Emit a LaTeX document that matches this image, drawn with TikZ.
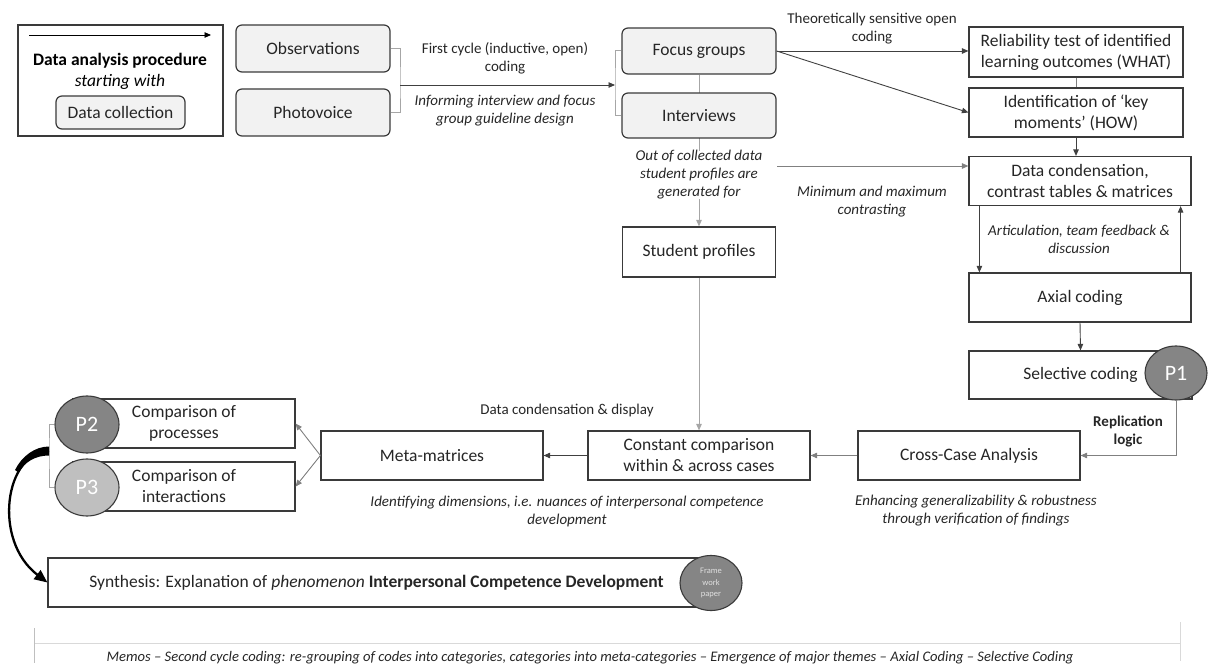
\documentclass[tikz,border=0pt]{standalone}
\usepackage{fontspec}
\setmainfont{Carlito}
\usetikzlibrary{arrows.meta,shapes.geometric,backgrounds}
\definecolor{ink}{HTML}{262626}
\definecolor{frameC}{HTML}{3A3A3A}
\definecolor{paleFill}{HTML}{F2F2F2}
\definecolor{wireDark}{HTML}{404040}
\definecolor{wireMid}{HTML}{808080}
\definecolor{wireLight}{HTML}{A6A6A6}
\definecolor{memoC}{HTML}{D9D9D9}
\definecolor{discDark}{HTML}{858585}
\definecolor{discLight}{HTML}{BFBFBF}
\newcommand{\boxfnt}{\fontsize{17.5}{21}\selectfont}
\newcommand{\lblfnt}{\fontsize{15}{18}\selectfont}
\begin{document}
\begin{tikzpicture}[x=1pt,y=-1pt,
  box/.style={draw=frameC, line width=1.2pt, fill=white, text=ink, font=\boxfnt, align=center, inner sep=0pt},
  rbox/.style={box, rounded corners=6pt, fill=paleFill},
  lbl/.style={text=ink, font=\lblfnt, align=center, inner sep=1pt},
  ilbl/.style={lbl, font=\lblfnt\itshape},
  disc/.style={ellipse, draw=frameC, line width=1.1pt, text=white, font=\fontsize{22}{24}\selectfont, inner sep=0pt},
  arrowhd/.style={-{Triangle[length=6.5pt,width=5.5pt]}},
  wdark/.style={draw=wireDark, line width=0.9pt},
  wmid/.style={draw=wireMid, line width=0.9pt},
  wlight/.style={draw=wireLight, line width=1pt},
  bracketline/.style={draw=wireLight, line width=1pt},
  memoline/.style={draw=memoC, line width=1pt},
]
\useasboundingbox (0,0) rectangle (1209,668);

% ---- legend ----
\node[box, minimum width=205pt, minimum height=111pt] (legend) at (120.5,80.5) {};
\coordinate (legA) at (29,35);
\coordinate (legB) at (211,35);
\draw[wdark, draw=black, arrowhd] (legA) -- (legB);
\node[lbl, font=\boxfnt\bfseries, text=black] (legTitle) at (120,61) {Data analysis procedure};
\node[lbl, font=\boxfnt\itshape, text=black] (legSub) at (120,82) {starting with};
\node[rbox, minimum width=129pt, minimum height=33pt] (legDC) at (120.5,112.5) {Data collection};

% ---- data collection sources ----
\node[rbox, minimum width=154pt, minimum height=47pt] (obs) at (313,48.5) {Observations};
\node[rbox, minimum width=154pt, minimum height=47pt] (photo) at (313,112.5) {Photovoice};
\node[rbox, minimum width=154pt, minimum height=46pt] (fg) at (699,51) {Focus groups};
\node[rbox, minimum width=154pt, minimum height=45pt] (iv) at (699,115.5) {Interviews};

\coordinate (bL) at (400,85);
\coordinate (bR) at (615,85);
\draw[bracketline] (obs.east) -| (bL) |- (photo.east);
\draw[bracketline] (fg.west) -| (bR) |- (iv.west);
\draw[wdark, arrowhd] (bL) -- (bR);
\node[lbl] (firstCycle) at (505,58) {First cycle (inductive, open)\\coding};
\node[ilbl] (informing) at (505,110.5) {Informing interview and focus\\group guideline design};

% ---- right column ----
\node[box, minimum width=214pt, minimum height=50pt] (rel) at (1076,52) {Reliability test of identified\\learning outcomes (WHAT)};
\node[box, minimum width=214pt, minimum height=49pt] (idf) at (1076,112.5) {Identification of `key\\moments' (HOW)};
\node[box, minimum width=222pt, minimum height=49pt] (dc) at (1080,181) {Data condensation,\\contrast tables \& matrices};
\node[box, minimum width=222pt, minimum height=49pt] (axial) at (1080,297.5) {Axial coding};
\node[box, minimum width=223pt, minimum height=48pt] (sel) at (1080.5,375) {Selective coding};
\node[disc, fill=discDark, minimum width=62pt, minimum height=54pt] (p1) at (1176,373) {P1};

\node[lbl] (theo) at (872,28.5) {Theoretically sensitive open\\coding};
\draw[wdark, arrowhd] (fg.east) -- (fg.east -| rel.west);
\draw[wdark, arrowhd] (fg.east) -- (idf.west);
\draw[wmid] (rel.south) -- (idf.north);
\draw[wdark, arrowhd] (idf.south) -- (idf.south |- dc.north);
\draw[wdark, arrowhd] ([xshift=11pt]dc.south west) -- ([xshift=11pt]axial.north west);
\draw[wdark, arrowhd] ([xshift=-11pt]axial.north east) -- ([xshift=-11pt]dc.south east);
\node[ilbl] (artic) at (1079,239.5) {Articulation, team feedback \&\\discussion};
\draw[wdark, arrowhd] (axial.south) -- (sel.north);

% ---- student profiles column ----
\node[box, minimum width=153pt, minimum height=50pt] (sp) at (699,252) {Student profiles};
\node[ilbl, fill=white, inner sep=0pt] (outOf) at (699,175) {Out of collected data\\student profiles are\\generated for};
\coordinate (mmA) at (777,166);
\draw[wmid, arrowhd] (mmA) -- (mmA -| dc.west);
\node[ilbl] (minmax) at (872,202) {Minimum and maximum\\contrasting};

% ---- comparison row ----
\node[box, minimum width=222pt, minimum height=49pt] (cca) at (969,455.5) {Cross-Case Analysis};
\node[box, minimum width=222pt, minimum height=49pt] (cc) at (699,455.5) {Constant comparison\\within \& across cases};
\node[box, minimum width=222pt, minimum height=49pt] (meta) at (432,455.5) {Meta-matrices};
\node[box, minimum width=222pt, minimum height=49pt] (p2box) at (184,423.5) {Comparison of\\processes};
\node[box, minimum width=222pt, minimum height=49pt] (p3box) at (184,486.5) {Comparison of\\interactions};
\node[disc, fill=discDark, minimum width=64pt, minimum height=57pt] (p2) at (87,424.5) {P2};
\node[disc, fill=discLight, minimum width=64pt, minimum height=57pt] (p3) at (87,487.5) {P3};

\draw[wmid, arrowhd] (p1.south) |- (cca.east);
\node[lbl, font=\lblfnt\bfseries] (repl) at (1128,431) {Replication\\logic};
\draw[wmid, arrowhd] (cca.west) -- (cc.east);
\draw[wdark, arrowhd] (cc.west) -- (meta.east);
\draw[wmid, arrowhd] (meta.west) -- (p2box.east);
\draw[wmid, arrowhd] (meta.west) -- (p3box.east);
\node[lbl] (dcd) at (567,410) {Data condensation \& display};
\node[ilbl] (ident) at (567,511) {Identifying dimensions, i.e. nuances of interpersonal competence\\development};
\node[ilbl] (enh) at (976,510.5) {Enhancing generalizability \& robustness\\through verification of findings};

\begin{scope}[on background layer]
  \draw[wlight, arrowhd] (fg.south) -- (sp.north);
  \draw[wlight, arrowhd] (sp.south) -- (cc.north);
\end{scope}

% ---- synthesis ----
\coordinate (brkL) at (49,451);
\draw[bracketline] (p2.west) -| (brkL) |- (p3.west);
\node[box, minimum width=657pt, minimum height=49pt] (synth) at (376.5,582.5)
  {Synthesis: Explanation of \textit{phenomenon} \textbf{Interpersonal Competence Development}};
\node[disc, fill=discDark, minimum width=62pt, minimum height=55pt, font=\fontsize{8.5}{11.5}\selectfont, text=white!88!black, align=center] (fw) at (711,583) {Frame\\work\\paper};
\draw[black, line width=2.3pt, -{Triangle[length=13pt,width=11pt]}] (brkL) .. controls (5,452) and (-8,540) .. (synth.west);
\fill[black] (49,446.5) .. controls (35,446.5) and (22,456) .. (15,470) -- (18.5,472.5) .. controls (25,462) and (35,455.5) .. (49,455.5) -- cycle;

% ---- memo strip ----
\coordinate (mL) at (34,643);
\coordinate (mR) at (1180,643);
\coordinate (mLt) at (34,628);
\coordinate (mLb) at (34,663);
\coordinate (mRt) at (1180,622);
\coordinate (mRb) at (1180,661);
\draw[memoline] (mL) -- (mR);
\draw[memoline, draw=discLight] (mLt) -- (mLb);
\draw[memoline] (mRt) -- (mRb);
\node[ilbl, font=\fontsize{14.6}{17}\selectfont\itshape] (memo) at (590,657.5) {Memos -- Second cycle coding: re-grouping of codes into categories, categories into meta-categories -- Emergence of major themes -- Axial Coding -- Selective Coding};
\end{tikzpicture}
\end{document}
